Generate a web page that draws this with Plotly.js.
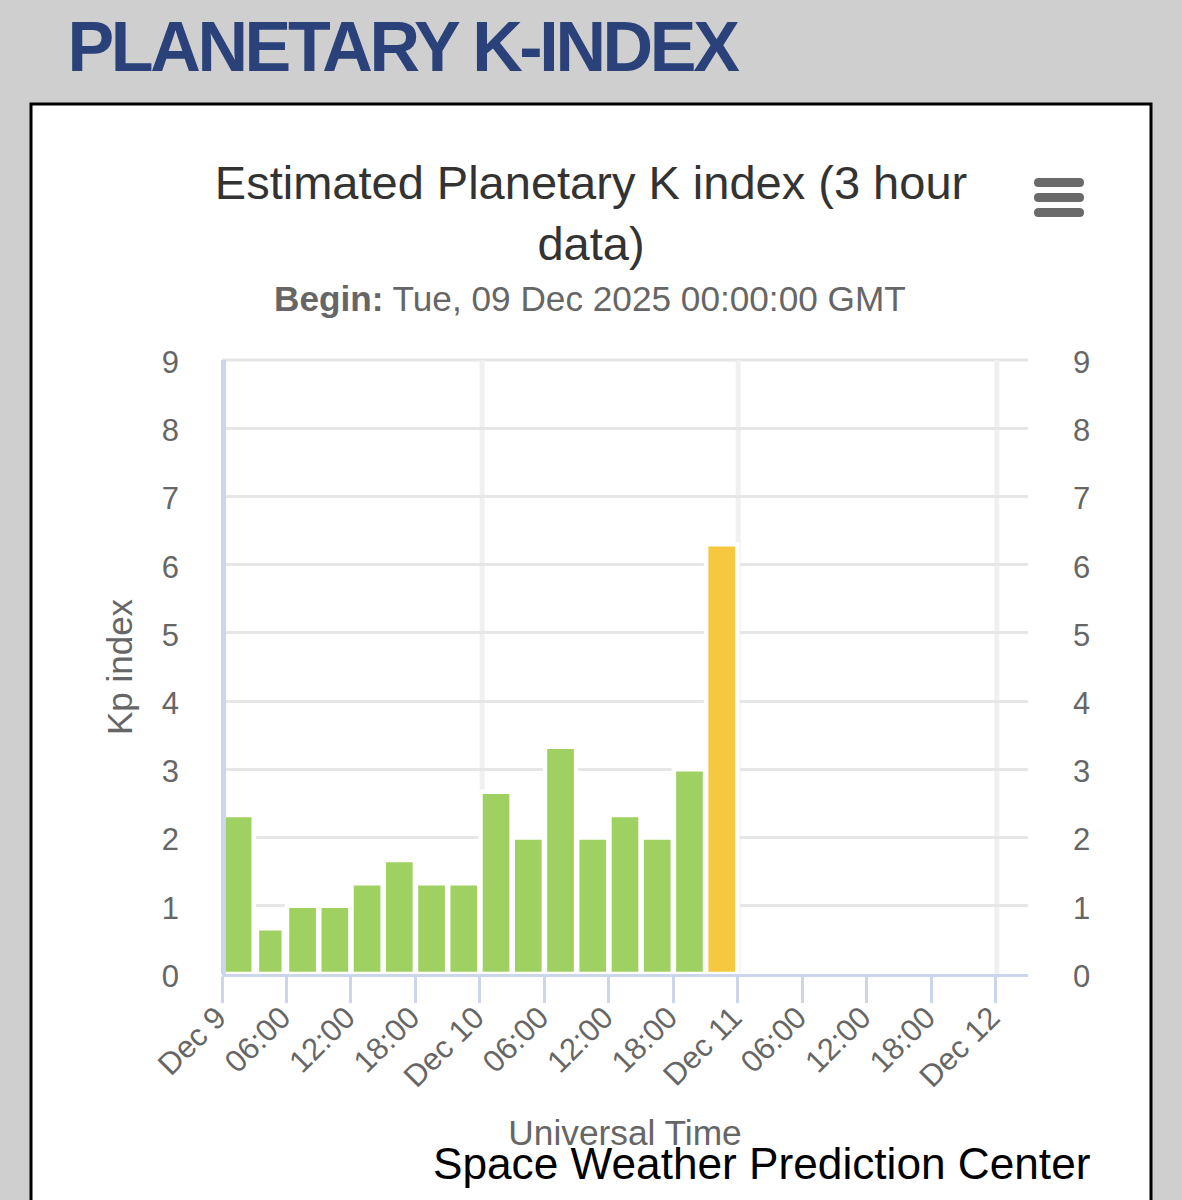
<!DOCTYPE html>
<html>
<head>
<meta charset="utf-8">
<script src="https://cdn.plot.ly/plotly-3.0.1.min.js"></script>
<style>
html,body{margin:0;padding:0;background:#cfcfcf;overflow:hidden}
#chart{width:1182px;height:1200px}
g.annotation[data-index="0"] text{letter-spacing:-3.35px}
</style>
</head>
<body>
<div id="chart"></div>
<script>
const barTimes = ["2025-12-09 01:30","2025-12-09 04:30","2025-12-09 07:30","2025-12-09 10:30","2025-12-09 13:30","2025-12-09 16:30","2025-12-09 19:30","2025-12-09 22:30","2025-12-10 01:30","2025-12-10 04:30","2025-12-10 07:30","2025-12-10 10:30","2025-12-10 13:30","2025-12-10 16:30","2025-12-10 19:30","2025-12-10 22:30"];
const kpValues = [2.33,0.67,1,1,1.33,1.67,1.33,1.33,2.67,2,3.33,2,2.33,2,3,6.3];
const barColors = ["#9fd062","#9fd062","#9fd062","#9fd062","#9fd062","#9fd062","#9fd062","#9fd062","#9fd062","#9fd062","#9fd062","#9fd062","#9fd062","#9fd062","#9fd062","#f6c83f"];
const barHours = [2.9,2.5,2.9,2.9,2.9,2.9,2.9,2.9,2.9,2.9,2.9,2.9,2.9,2.9,2.9,2.9];
const tickTimes = ["2025-12-09 00:00","2025-12-09 06:00","2025-12-09 12:00","2025-12-09 18:00","2025-12-10 00:00","2025-12-10 06:00","2025-12-10 12:00","2025-12-10 18:00","2025-12-11 00:00","2025-12-11 06:00","2025-12-11 12:00","2025-12-11 18:00","2025-12-12 00:00"];
const tickLabels = ["Dec 9","06:00","12:00","18:00","Dec 10","06:00","12:00","18:00","Dec 11","06:00","12:00","18:00","Dec 12"];
const dayLines = ["2025-12-10 00:12","2025-12-11 00:02","2025-12-12 00:06"];
const yTicks = [0,1,2,3,4,5,6,7,8,9];
const hourMs = 3600*1000;

const L=222,R=154,T=360,B=226,W=1182,H=1200;
const px=v=>(v-L)/(W-L-R), py=v=>(H-B-v)/(H-T-B);
const font="'Liberation Sans', Arial, sans-serif";
const pill=(y0,y1)=>{const a=px(1034),b=px(1084),ra=px(1038.5),rb=px(1079.5),t=py(y0),m=py((y0+y1)/2),u=py(y1);
  return {type:'path',xref:'paper',yref:'paper',layer:'above',fillcolor:'#6a6a6a',line:{width:0},
    path:`M${ra},${t} L${rb},${t} Q${b},${t} ${b},${m} Q${b},${u} ${rb},${u} L${ra},${u} Q${a},${u} ${a},${m} Q${a},${t} ${ra},${t} Z`};};

const traces=[
 {type:'bar',x:barTimes,y:kpValues,width:barHours.map(h=>h*hourMs),
  marker:{color:barColors,line:{color:'#ffffff',width:4.5}},hoverinfo:'x+y',showlegend:false},
 {type:'scatter',mode:'none',x:[tickTimes[0]],y:[0],yaxis:'y2',hoverinfo:'skip',showlegend:false}
];
const layout={
 width:W,height:H,autosize:false,
 margin:{l:L,r:R,t:T,b:B,pad:0},
 paper_bgcolor:'#cfcfcf',plot_bgcolor:'rgba(0,0,0,0)',
 font:{family:font,color:'#666666'},
 showlegend:false,bargap:0,
 title:{text:'Estimated Planetary K index (3 hour<br>data)',font:{family:font,size:47,color:'#333333'},
   x:0.5,xanchor:'center',y:1-199/H,yanchor:'top'},
 xaxis:{type:'date',range:["2025-12-09 00:00","2025-12-12 03:00"],tickmode:'array',tickvals:tickTimes,ticktext:tickLabels,
   tickangle:-45,tickfont:{size:31,color:'#666666'},ticks:'outside',ticklen:26,tickwidth:3,tickcolor:'#ccd6eb',ticklabelstandoff:-16,ticklabelshift:-5,
   showgrid:false,showline:true,linecolor:'#ccd6eb',linewidth:3,zeroline:false,
   title:{text:'Universal Time',font:{size:35.3,color:'#666666'},standoff:28},automargin:false},
 yaxis:{range:[0,9],tickmode:'array',tickvals:yTicks,ticktext:yTicks.map(String),tickfont:{size:31,color:'#666666'},
   showgrid:true,gridcolor:'#e6e6e6',gridwidth:3,zeroline:false,showline:false,ticks:'',ticklabelstandoff:42,ticklabelshift:2,
   title:{text:'Kp index',font:{size:35,color:'#666666'},standoff:18},automargin:false},
 yaxis2:{range:[0,9],overlaying:'y',side:'right',tickmode:'array',tickvals:yTicks,ticktext:yTicks.map(String),
   tickfont:{size:31,color:'#666666'},showgrid:false,zeroline:false,showline:false,ticks:'',ticklabelstandoff:44,ticklabelshift:2},
 shapes:[
  {type:'rect',xref:'paper',yref:'paper',layer:'below',x0:px(31),x1:px(1151),y0:py(104),y1:py(1215),fillcolor:'#ffffff',line:{color:'#000000',width:3}},
  {type:'line',xref:'paper',yref:'paper',layer:'below',x0:0,x1:1,y0:1,y1:1,line:{color:'#e6e6e6',width:3}},
  ...dayLines.map(d=>({type:'line',xref:'x',yref:'paper',layer:'below',x0:d,x1:d,y0:0,y1:1,line:{color:'#f0f0f2',width:5}})),
  {type:'line',xref:'paper',yref:'paper',layer:'above',x0:px(223.5),x1:px(223.5),y0:0,y1:1,line:{color:'#ccd6eb',width:5}},
  pill(178,187),pill(193,202),pill(208,217)
 ],
 annotations:[
  {text:'<b>PLANETARY K-INDEX</b>',xref:'paper',yref:'paper',x:px(36.5),y:py(47),xanchor:'left',yanchor:'middle',showarrow:false,font:{family:font,size:70,color:'#2a4279'}},
  {text:'<b>Begin:</b> Tue, 09 Dec 2025 00:00:00 GMT',xref:'paper',yref:'paper',x:px(590),y:py(298),xanchor:'center',yanchor:'middle',showarrow:false,font:{family:font,size:35.2,color:'#666666'}},
  {text:'Space Weather Prediction Center',xref:'paper',yref:'paper',x:px(1092),y:py(1163),xanchor:'right',yanchor:'middle',showarrow:false,font:{family:font,size:44.2,color:'#000000'}}
 ]
};
Plotly.newPlot('chart',traces,layout,{displayModeBar:false,staticPlot:true});
</script>
</body>
</html>
